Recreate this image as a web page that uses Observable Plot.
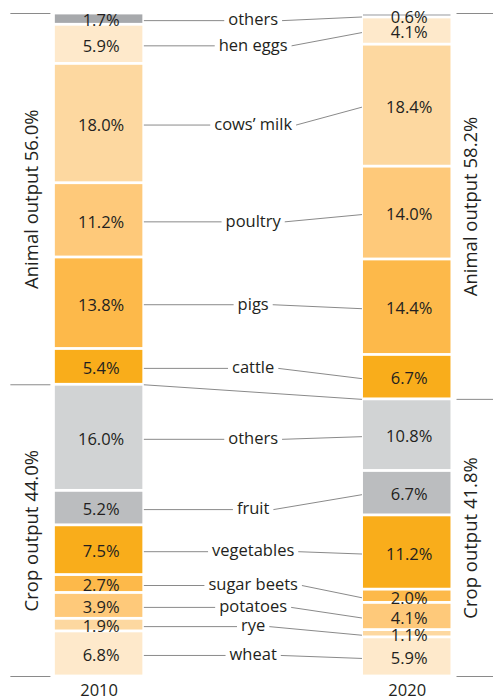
<!DOCTYPE html>
<html><head><meta charset="utf-8">
<script src="https://cdn.jsdelivr.net/npm/d3@7"></script>
<script src="https://cdn.jsdelivr.net/npm/@observablehq/plot@0.6"></script>
<style>body{margin:0;background:#fff;} #chart svg{display:block;}</style>
</head><body><div id="chart"></div>
<script>
// ---- data (bottom to top) ----
const years = [2010, 2020];
const categories = ["wheat", "rye", "potatoes", "sugar beets", "vegetables", "fruit", "others",
                    "cattle", "pigs", "poultry", "cows\u2019 milk", "hen eggs", "others"];
const groups = ["Crop", "Crop", "Crop", "Crop", "Crop", "Crop", "Crop",
                "Animal", "Animal", "Animal", "Animal", "Animal", "Animal"];
const values2010 = [6.8, 1.9, 3.9, 2.7, 7.5, 5.2, 16.0, 5.4, 13.8, 11.2, 18.0, 5.9, 1.7];
const values2020 = [5.9, 1.1, 4.1, 2.0, 11.2, 6.7, 10.8, 6.7, 14.4, 14.0, 18.4, 4.1, 0.6];
const colors = ["#fee9cb", "#fdd8a0", "#fec97a", "#fdb94a", "#f9ad1b", "#bbbdbf", "#d1d3d4",
                "#f9ad1b", "#fdb94a", "#fec97a", "#fdd8a0", "#fee9cb", "#a7a9ac"];
const groupOrder = ["Animal", "Crop"];
const groupNames = {Animal: "Animal output", Crop: "Crop output"};

// ---- layout ----
const W = 493, H = 700;
const xDomain = [2006.8, 2022.8];
const k = W / (xDomain[1] - xDomain[0]);       // px per x unit
const hw = 1.42;                                // bar half width (x units)
const mid = (years[0] + years[1]) / 2;
const FONT = "'Open Sans', 'Noto Sans', sans-serif";
const FS = 16.5;
const ink = "#231f20", lineC = "#8a8a8a";

const ctx = document.createElement("canvas").getContext("2d");
ctx.font = `${FS}px 'Open Sans'`;
const measure = s => ctx.measureText(s).width;

function stack(vals) { let c = 0; return vals.map(v => { const y1 = c; c += v; return {y1, y2: c, m: (y1 + c) / 2}; }); }
const allValues = [values2010, values2020];
const stacks = allValues.map(stack);

const rows = years.flatMap((yr, j) => categories.map((cat, i) => ({
  year: yr, cat, value: allValues[j][i], color: colors[i], ...stacks[j][i]
})));
const cats = categories.map((cat, i) => ({cat, a: stacks[0][i].m, b: stacks[1][i].m, w: measure(cat)}));

const groupRows = years.flatMap((yr, j) => groupOrder.map(g => {
  const idx = groups.map((gg, i) => gg === g ? i : -1).filter(i => i >= 0);
  const lo = d3.min(idx, i => stacks[j][i].y1), hi = d3.max(idx, i => stacks[j][i].y2);
  const total = d3.sum(idx, i => allValues[j][i]);
  return {year: yr, side: j, lo, hi, m: (lo + hi) / 2, text: `${groupNames[g]} ${total.toFixed(1)}%`};
}));
const bounds = years.flatMap((yr, j) => {
  const b = new Set(); groupRows.filter(g => g.side === j).forEach(g => { b.add(g.lo); b.add(g.hi); });
  return [...b].map(v => ({side: j, v}));
});
const sideX = [[2007.12, 2008.42], [2021.6, 2022.8]];
const sideLabelX = [2007.82, 2022.08];
const cropTop = years.map((yr, j) => groupRows.find(g => g.side === j && g.text.startsWith("Crop")).hi);

const px = p => p / k;

const plot = Plot.plot({
  width: W, height: H,
  marginTop: 13, marginBottom: 24, marginLeft: 0, marginRight: 0,
  x: {domain: xDomain, axis: null},
  y: {domain: [0, 100], axis: null},
  color: {type: "identity"},
  style: {fontFamily: FONT, fontSize: FS + "px", color: ink, background: "#fff"},
  marks: [
    Plot.rect(rows, {x1: d => d.year - hw, x2: d => d.year + hw, y1: "y1", y2: "y2",
      fill: "color", insetTop: 1.4, insetBottom: 1.4}),
    // connector lines
    Plot.link(cats, {x1: years[0] + hw + px(1), x2: d => mid - px(d.w / 2 + 4),
      y1: "a", y2: "a", stroke: lineC, strokeWidth: 1, dy: 1.5}),
    Plot.link(cats, {x1: d => mid + px(d.w / 2 + 4), x2: years[1] - hw - px(1.5),
      y1: "a", y2: "b", stroke: lineC, strokeWidth: 1, dy: 1.5}),
    // boundary between animal and crop
    Plot.link([0], {x1: years[0] + hw + px(1), x2: years[1] - hw - px(1.5),
      y1: () => cropTop[0], y2: () => cropTop[1], stroke: lineC, strokeWidth: 1}),
    // bracket ticks
    Plot.link(bounds, {x1: d => sideX[d.side][0], x2: d => sideX[d.side][1],
      y1: "v", y2: "v", stroke: lineC, strokeWidth: 1}),
    // value labels
    Plot.text(rows, {x: d => d.year + px(2), y: "m", text: d => d.value.toFixed(1) + "%",
      fill: ink, fontSize: FS, dy: 2}),
    // category labels
    Plot.text(cats, {x: () => mid, y: "a", text: "cat", fill: ink, fontSize: FS, dy: 1}),
    // group labels
    Plot.text(groupRows, {x: d => sideLabelX[d.side], y: "m", text: "text", rotate: -90,
      fill: ink, fontSize: 18.5}),
    // year labels
    Plot.text(years, {x: d => d, y: () => 0, text: d => String(d), fill: ink, fontSize: FS, dy: 14.5})
  ]
});
document.getElementById("chart").appendChild(plot);
</script>
</body></html>
